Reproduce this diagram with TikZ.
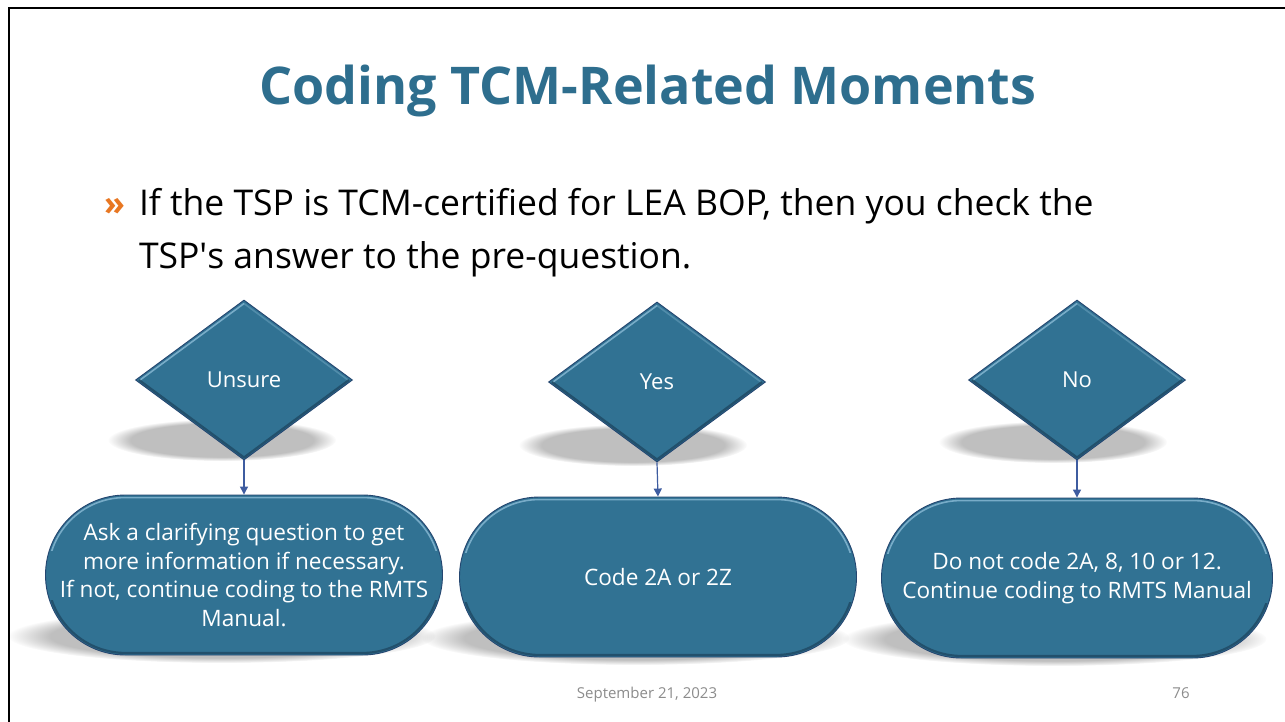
\documentclass[tikz,border=0pt]{standalone}
\usepackage{fontspec}
\setmainfont{Open Sans}
\usetikzlibrary{shapes.geometric,arrows.meta,calc,fadings}

\definecolor{shapefill}{RGB}{49,114,147}
\definecolor{shapeedge}{RGB}{36,70,112}
\definecolor{shapelight}{RGB}{120,172,200}
\definecolor{shapedark}{RGB}{24,58,82}
\definecolor{arrowblue}{RGB}{62,92,160}
\definecolor{titleblue}{RGB}{46,110,142}
\definecolor{bulletorange}{RGB}{232,119,34}
\definecolor{footgray}{RGB}{140,140,140}

\tikzset{
  decision/.style={shape=diamond, aspect=1.356, minimum width=217pt,
    minimum height=160pt, inner sep=0pt, fill=shapefill, draw=shapeedge,
    line width=0.9pt, text=white, font=\fontsize{22}{26}\selectfont},
  terminal/.style={shape=rectangle, rounded corners=80pt, minimum height=160pt,
    inner sep=0pt, fill=shapefill, draw=shapeedge, line width=0.9pt,
    text=white, align=center, font=\fontsize{22.6}{28.5}\selectfont},
  glow/.style={draw=shapelight, line width=1.6pt, line join=round},
  rim/.style={draw=shapedark, line width=2.2pt, opacity=0.6, line join=round},
  flow/.style={draw=arrowblue, line width=1.2pt, -{Triangle[width=8pt,length=8pt]}},
  softshadow/.style={fill=black, opacity=0.25, path fading=circle with fuzzy edge 20 percent},
  plain/.style={inner sep=0pt, outer sep=0pt}
}

\begin{document}
\begin{tikzpicture}[x=1pt,y=-1pt]
\useasboundingbox (0,0) rectangle (1285,721);
\fill[white] (0,0) rectangle (1285,721);

% slide frame
\draw[line width=2.5pt, line cap=rect] (9,721) -- (9,8) -- (1285,8);

% title and bullet text
\node[plain, anchor=base, text=titleblue, font=\fontsize{52}{56}\selectfont\bfseries]
  (title) at (648,104) {Coding TCM-Related Moments};
\node[plain, anchor=base west, text=bulletorange, font=\fontsize{34}{40}\selectfont\bfseries]
  (bullet) at (104,215) {»};
\node[plain, anchor=base west, font=\fontsize{35.5}{40}\selectfont]
  (line1) at (139,215) {If the TSP is TCM-certified for LEA BOP, then you check the};
\node[plain, anchor=base west, font=\fontsize{35.5}{40}\selectfont]
  (line2) at (139,268) {TSP\textquotesingle s answer to the pre-question.};

% shadows behind the shapes
\fill[softshadow] (222,440) ellipse [x radius=114, y radius=21];
\fill[softshadow] (633,445) ellipse [x radius=114, y radius=21];
\fill[softshadow] (1053,442) ellipse [x radius=114, y radius=21];
\fill[softshadow] (222,636) ellipse [x radius=214, y radius=27];
\fill[softshadow] (636,638) ellipse [x radius=214, y radius=27];
\fill[softshadow] (1055,639) ellipse [x radius=212, y radius=27];

% decisions
\node[decision] (unsure) at (244,380) {Unsure};
\node[decision] (yes) at (657,382) {Yes};
\node[decision] (no) at (1077,380) {No};

% outcomes
\node[terminal, minimum width=397pt] (ask) at (244,575)
  {Ask a clarifying question to get\\more information if necessary.\\If not, continue coding to the RMTS\\Manual.};
\node[terminal, minimum width=397pt] (code) at (658,577) {Code 2A or 2Z};
\node[terminal, minimum width=391pt] (donot) at (1077,578)
  {Do not code 2A, 8, 10 or 12.\\Continue coding to RMTS Manual};

% bevel on the decisions
\foreach \d in {unsure,yes,no}{
  \draw[glow] ($(\d.west)+(5,0)$) -- ($(\d.north)+(0,4)$);
  \draw[glow, opacity=0.45] ($(\d.north)+(0,4)$) -- ($(\d.east)+(-5,0)$);
  \draw[rim] ($(\d.west)+(4,0)$) -- ($(\d.south)+(0,-3)$) -- ($(\d.east)+(-4,0)$);
}

% bevel on the outcomes
\foreach \t in {ask,code,donot}{
  \begin{scope}
    \clip ($(\t.north west)+(-2,-2)$) rectangle ($(\t.east)+(2,-25)$);
    \draw[glow, rounded corners=77pt] ($(\t.north west)+(3,3)$) rectangle ($(\t.south east)+(-3,-3)$);
  \end{scope}
  \begin{scope}
    \clip ($(\t.west)+(-2,25)$) rectangle ($(\t.south east)+(2,2)$);
    \draw[rim, rounded corners=78pt] ($(\t.north west)+(2.5,2.5)$) rectangle ($(\t.south east)+(-2.5,-2.5)$);
  \end{scope}
}

% connectors
\draw[flow] (unsure.south) -- (ask.north);
\draw[flow] (yes.south) -- (code.north);
\draw[flow] (no.south) -- (donot.north);

% footer
\node[plain, anchor=base, text=footgray, font=\fontsize{15}{17}\selectfont]
  (date) at (647,698) {September 21, 2023};
\node[plain, anchor=base, text=footgray, font=\fontsize{15}{17}\selectfont]
  (page) at (1181,698) {76};
\end{tikzpicture}
\end{document}
